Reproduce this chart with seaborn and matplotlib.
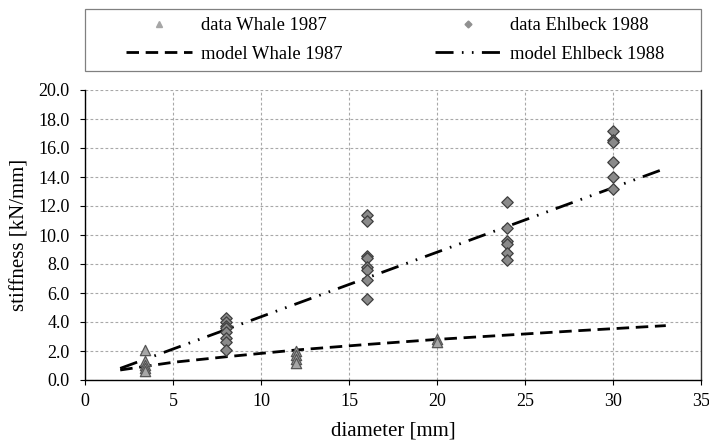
import numpy as np
import pandas as pd
import matplotlib
matplotlib.use("Agg")
import matplotlib.pyplot as plt
from matplotlib.patches import Rectangle
from matplotlib.lines import Line2D
from matplotlib.ticker import FormatStrFormatter
import seaborn as sns

# ---- data ----
whale_d = [3.4, 3.4, 3.4, 3.4, 3.4, 12, 12, 12, 12, 20, 20]
whale_k = [2.1, 1.3, 1.05, 0.8, 0.6, 2.0, 1.75, 1.45, 1.2, 2.8, 2.6]

ehl_d = [8, 8, 8, 8, 8, 8, 8, 8,
         16, 16, 16, 16, 16, 16, 16, 16,
         24, 24, 24, 24, 24, 24,
         30, 30, 30, 30, 30, 30]
ehl_k = [4.3, 4.0, 3.7, 3.6, 3.3, 2.9, 2.6, 2.1,
         11.4, 11.0, 8.55, 8.4, 7.8, 7.6, 6.9, 5.6,
         12.3, 10.45, 9.6, 9.4, 8.75, 8.3,
         17.2, 16.55, 16.4, 15.05, 14.0, 13.2]

model_whale_d = [2, 5, 8, 12, 16, 20, 24, 28, 33]
model_whale_k = [0.69, 1.22, 1.6, 2.07, 2.45, 2.8, 3.1, 3.4, 3.75]

model_ehl_d = [2, 33]
model_ehl_k = [0.8, 14.6]

x_ticks = [0, 5, 10, 15, 20, 25, 30, 35]
y_ticks = [0, 2, 4, 6, 8, 10, 12, 14, 16, 18, 20]

labels = ["data Whale 1987", "data Ehlbeck 1988",
          "model Whale 1987", "model Ehlbeck 1988"]

# ---- styling ----
sns.set_theme(style="white")
plt.rcParams["font.family"] = ["Liberation Serif", "DejaVu Serif"]

fig = plt.figure(figsize=(7.09, 4.46), dpi=100)
ax = fig.add_axes([85 / 709, 1 - 380 / 446, 616 / 709, 290 / 446])

df_w = pd.DataFrame({"d": whale_d, "k": whale_k})
df_e = pd.DataFrame({"d": ehl_d, "k": ehl_k})
df_mw = pd.DataFrame({"d": model_whale_d, "k": model_whale_k})
df_me = pd.DataFrame({"d": model_ehl_d, "k": model_ehl_k})

ehl_dash = (0, (6.5, 3.0, 0.6, 3.0, 0.6, 3.0))
whale_dash = (0, (4.5, 2.4))

sns.lineplot(data=df_mw, x="d", y="k", ax=ax, color="black", lw=2.0,
             linestyle=whale_dash, zorder=3, legend=False)
sns.lineplot(data=df_me, x="d", y="k", ax=ax, color="black", lw=2.0,
             linestyle=ehl_dash, zorder=3, legend=False)
sns.scatterplot(data=df_w, x="d", y="k", ax=ax, marker="^", s=55,
                color="#a6a6a6", edgecolor="#555555", linewidth=0.9,
                zorder=4, legend=False)
sns.scatterplot(data=df_e, x="d", y="k", ax=ax, marker="D", s=34,
                color="#8a8a8a", edgecolor="#3f3f3f", linewidth=0.9,
                zorder=4, legend=False)

ax.set_xlim(0, 35)
ax.set_ylim(0, 20)
ax.set_xticks(x_ticks)
ax.set_yticks(y_ticks)
ax.yaxis.set_major_formatter(FormatStrFormatter("%.1f"))
ax.grid(True, color="#a8a8a8", linestyle=(0, (2.5, 2.0)), linewidth=0.8)
ax.set_axisbelow(True)

for s in ["left", "bottom"]:
    ax.spines[s].set_visible(True)
    ax.spines[s].set_color("black")
    ax.spines[s].set_linewidth(1.0)
ax.spines["top"].set_visible(False)
ax.spines["right"].set_visible(True)
ax.spines["right"].set_color("#333333")
ax.spines["right"].set_linewidth(1.0)

ax.tick_params(axis="both", which="major", direction="out", length=3.6,
               width=0.8, color="black", labelsize=13, left=True,
               bottom=True)
ax.tick_params(axis="y", pad=7.5)
ax.tick_params(axis="x", pad=6)
for lab in ax.get_xticklabels() + ax.get_yticklabels():
    lab.set_color("black")

ax.set_xlabel("diameter [mm]", fontsize=15, color="black", labelpad=8)
ax.set_ylabel("stiffness [kN/mm]", fontsize=15, color="black", labelpad=6)

# ---- legend ----
h_wd = Line2D([], [], marker="^", linestyle="none", markersize=5,
              markerfacecolor="#a6a6a6", markeredgecolor="#a6a6a6")
h_ed = Line2D([], [], marker="D", linestyle="none", markersize=3.5,
              markerfacecolor="#909090", markeredgecolor="#909090")
h_wm = Line2D([], [], color="black", lw=2.0, linestyle=whale_dash)
h_em = Line2D([], [], color="black", lw=2.0, linestyle=ehl_dash)

leg = fig.legend([h_wd, h_wm, h_ed, h_em],
                 [labels[0], labels[2], labels[1], labels[3]],
                 ncol=2, loc="center left",
                 bbox_to_anchor=(117 / 709, 1 - 40 / 446),
                 frameon=False, fontsize=13.4, borderpad=0,
                 handlelength=3.55, handletextpad=0.45,
                 columnspacing=5.0, labelspacing=0.6)
for t in leg.get_texts():
    t.set_color("black")

fig.patches.append(Rectangle((85 / 709, 1 - 71 / 446), 616 / 709, 62 / 446,
                             transform=fig.transFigure, fill=False,
                             edgecolor="#808080", linewidth=0.9))

fig.savefig("out.png", dpi=100)
